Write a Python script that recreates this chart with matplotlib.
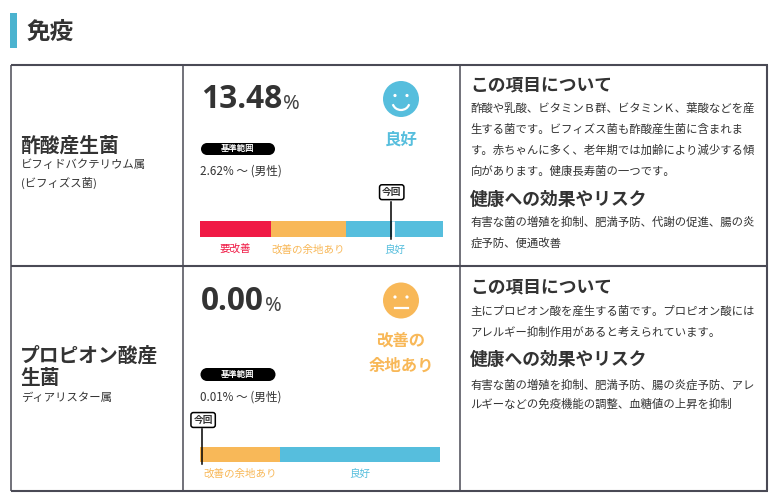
import matplotlib
matplotlib.use("Agg")
import matplotlib.pyplot as plt
from matplotlib.patches import Circle, Rectangle, Arc

plt.rcParams['font.family'] = ['Noto Sans CJK JP', 'DejaVu Sans']

section_title = "免疫"

names = [["酢酸産生菌"], ["プロピオン酸産", "生菌"]]
subnames = [["ビフィドバクテリウム属", "(ビフィズス菌)"], ["ディアリスター属"]]
values = ["13.48", "0.00"]
ranges = ["2.62% ～ (男性)", "0.01% ～ (男性)"]
status = [["良好"], ["改善の", "余地あり"]]

# bar segments, share of the bar in percent
seg_labels = [["要改善", "改善の余地あり", "良好"], ["改善の余地あり", "良好"]]
seg_widths = [[29.2, 30.9, 39.9], [33.3, 66.7]]
seg_colors = [["#f01a45", "#f8b858", "#56bedd"], ["#f8b858", "#56bedd"]]
marker_pos = [78.6, 1.0]

about_head = "この項目について"
risk_head = "健康への効果やリスク"
about_text = [
    ["酢酸や乳酸、ビタミンＢ群、ビタミンＫ、葉酸などを産",
     "生する菌です。ビフィズス菌も酢酸産生菌に含まれま",
     "す。赤ちゃんに多く、老年期では加齢により減少する傾",
     "向があります。健康長寿菌の一つです。"],
    ["主にプロピオン酸を産生する菌です。プロピオン酸には",
     "アレルギー抑制作用があると考えられています。"],
]
risk_text = [
    ["有害な菌の増殖を抑制、肥満予防、代謝の促進、腸の炎",
     "症予防、便通改善"],
    ["有害な菌の増殖を抑制、肥満予防、腸の炎症予防、アレ",
     "ルギーなどの免疫機能の調整、血糖値の上昇を抑制"],
]

dark = "#333333"
line_col = "#4a4a55"
blue = "#56bedd"
orange = "#f8b858"

W, H = 776, 504
fig = plt.figure(figsize=(W / 100, H / 100), dpi=100)
ax = fig.add_axes([0, 0, 1, 1])
ax.set_xlim(0, W)
ax.set_ylim(H, 0)
ax.axis("off")


def txt(x, y, s, size, color=dark, weight="normal", ha="left", family=None):
    t = ax.text(x, y, s, fontsize=size, color=color, fontweight=weight, ha=ha, va="center")
    if family:
        t.set_family(family)


def draw_bar(left, top, width, height, i):
    bar = fig.add_axes([left / W, 1 - (top + height) / H, width / W, height / H])
    bar.set_xlim(0, 100)
    bar.set_ylim(0, 1)
    bar.axis("off")
    start = 0
    for w, c, lab in zip(seg_widths[i], seg_colors[i], seg_labels[i]):
        bar.barh(0.5, w, left=start, height=1, color=c, linewidth=0)
        bar.text(start + w / 2, -0.8, lab, color=c, fontsize=7.6, ha="center", va="center")
        start += w
    # white gap beside the marker line only shows on the first bar
    m = marker_pos[i]
    if i == 0:
        bar.plot([m + 0.8, m + 0.8], [0, 1], color="white", lw=2, solid_capstyle="butt")
    bar.plot([m, m], [-0.1, 2.2], color="black", lw=1.1, clip_on=False)
    bar.text(m + 0.3, 2.8, "今回", fontsize=7, fontweight="bold", color=dark, ha="center", va="center",
             clip_on=False,
             bbox=dict(boxstyle="round,pad=0.25,rounding_size=0.25", fc="white", ec="black", lw=1.1))


def draw_face(cx, cy, color, smile):
    ax.add_patch(Circle((cx, cy), 18, fc=color, ec="none"))
    ax.add_patch(Circle((cx - 6, cy - 3.5), 1.6, fc="white", ec="none"))
    ax.add_patch(Circle((cx + 6, cy - 3.5), 1.6, fc="white", ec="none"))
    if smile:
        ax.add_patch(Arc((cx, cy + 3), 17, 16, theta1=15, theta2=165, ec="white", lw=1.6))
    else:
        ax.plot([cx - 6.5, cx + 6.5], [cy + 7, cy + 7], color="white", lw=1.6)


def draw_badge(top, height):
    r = height / 2
    ax.add_patch(Rectangle((207, top), 62, height, fc="black", ec="none"))
    ax.add_patch(Circle((207, top + r), r, fc="black", ec="none"))
    ax.add_patch(Circle((269, top + r), r, fc="black", ec="none"))
    txt(238, top + r, "基準範囲", 6, color="white", weight="bold", ha="center")


# heading
ax.add_patch(Rectangle((10, 13), 7, 35, fc="#4bb3cf", ec="none"))
txt(27, 31.5, section_title, 17, weight="bold")

# table grid
for y in [65, 266, 491]:
    ax.plot([10.5, 767.5], [y, y], color=line_col, lw=1.5, solid_capstyle="butt")
for x, lw in [(11, 1.1), (182.5, 1.1), (460, 1.1), (767, 1.5)]:
    ax.plot([x, x], [65, 491], color=line_col, lw=lw, solid_capstyle="butt")

# row 1
txt(20, 146, names[0][0], 14.2, weight="bold")
txt(21, 165, subnames[0][0], 8.2)
txt(21, 183, subnames[0][1], 8.2)
txt(201, 100, values[0], 22.8, weight="bold", family="Open Sans")
txt(282.5, 104, "%", 14.5, color="#444444", family="Noto Sans")
draw_badge(143, 12)
txt(200, 171, ranges[0], 8.4)
draw_face(401, 99, blue, True)
txt(401, 140, status[0][0], 11.8, color=blue, weight="bold", ha="center")
draw_bar(200, 221, 243, 16, 0)

# row 2
txt(20, 356, names[1][0], 14.2, weight="bold")
txt(20, 379, names[1][1], 14.2, weight="bold")
txt(21, 398, subnames[1][0], 8.2)
txt(201, 301, values[1], 22.8, weight="bold", family="Open Sans")
txt(264.5, 306, "%", 14.5, color="#444444", family="Noto Sans")
draw_badge(368, 13)
txt(200, 397, ranges[1], 8.4)
draw_face(401, 300.5, orange, False)
txt(401, 342, status[1][0], 11.8, color=orange, weight="bold", ha="center")
txt(401, 366, status[1][1], 11.8, color=orange, weight="bold", ha="center")
draw_bar(200, 447, 240, 15, 1)

# right column text
about_y = [[108, 129, 150, 171], [311, 332]]
risk_y = [[222, 243], [385, 404]]
txt(470, 85, about_head, 12.8, weight="bold")
txt(470, 200, risk_head, 12.8, weight="bold")
txt(470, 287, about_head, 12.8, weight="bold")
txt(470, 360, risk_head, 12.8, weight="bold")
for i in range(2):
    for y, s in zip(about_y[i], about_text[i]):
        txt(470.5, y, s, 8.2)
    for y, s in zip(risk_y[i], risk_text[i]):
        txt(470.5, y, s, 8.2)

fig.savefig("out.png", dpi=100, facecolor="white")
